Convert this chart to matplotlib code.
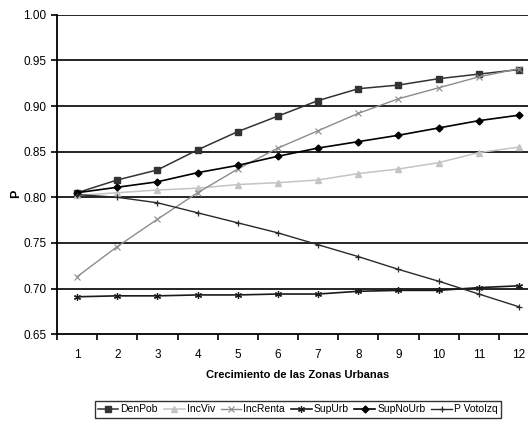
import numpy as np
import matplotlib.pyplot as plt

plt.rcParams['font.family'] = ['Liberation Sans', 'DejaVu Sans']

# Datos
zonas = list(range(1, 13))
den_pob = [0.805, 0.819, 0.830, 0.852, 0.872, 0.889, 0.906, 0.919, 0.923, 0.930, 0.935, 0.940]
inc_viv = [0.802, 0.805, 0.808, 0.810, 0.814, 0.816, 0.819, 0.826, 0.831, 0.838, 0.849, 0.855]
inc_renta = [0.713, 0.746, 0.776, 0.805, 0.831, 0.854, 0.873, 0.892, 0.908, 0.920, 0.932, 0.941]
sup_urb = [0.691, 0.692, 0.692, 0.693, 0.693, 0.694, 0.694, 0.697, 0.698, 0.698, 0.701, 0.703]
sup_no_urb = [0.805, 0.811, 0.817, 0.827, 0.835, 0.845, 0.854, 0.861, 0.868, 0.876, 0.884, 0.890]
p_voto_izq = [0.803, 0.800, 0.794, 0.783, 0.772, 0.761, 0.748, 0.735, 0.721, 0.708, 0.694, 0.680]

y_ticks = [0.65, 0.70, 0.75, 0.80, 0.85, 0.90, 0.95, 1.00]

fig = plt.figure(figsize=(5.28, 4.23), dpi=100)
ax = fig.add_axes([0.108, 0.21, 0.913, 0.755])

# Rejilla horizontal
for v in y_ticks[1:]:
    ax.axhline(v, color='black', lw=1.2, zorder=1)

ax.plot(zonas, den_pob, color='#333333', lw=1.1, marker='s', ms=4, label='DenPob', zorder=3)
ax.plot(zonas, inc_viv, color='#c4c4c4', lw=1.1, marker='^', ms=4, label='IncViv', zorder=3)
ax.plot(zonas, inc_renta, color='#8c8c8c', lw=1.0, marker='x', ms=4, mew=0.8, label='IncRenta', zorder=3)
ax.plot(zonas, sup_urb, color='#1a1a1a', lw=1.2, marker=(6, 2, 0), ms=5, mew=0.9, label='SupUrb', zorder=3)
ax.plot(zonas, sup_no_urb, color='black', lw=1.2, marker='D', ms=3.5, label='SupNoUrb', zorder=3)
ax.plot(zonas, p_voto_izq, color='#2a2a2a', lw=1.0, marker='+', ms=5, mew=0.9, label='P VotoIzq', zorder=3)

ax.set_xlim(0.5, 12.5)
ax.set_ylim(0.65, 1.00)
ax.set_yticks(y_ticks)
ax.set_yticklabels(['%.2f' % v for v in y_ticks], fontsize=8.5)
ax.set_xticks(zonas)
ax.set_xticklabels([str(z) for z in zonas], fontsize=8.5)
ax.set_xticks(np.arange(0.5, 12.6, 1), minor=True)
ax.tick_params(axis='x', which='major', length=0, pad=11)
ax.tick_params(axis='x', which='minor', length=4, width=1.2, direction='out')
ax.tick_params(axis='y', length=4, width=1.2, direction='out')

for s in ['top', 'right']:
    ax.spines[s].set_visible(False)
ax.spines['left'].set_linewidth(1.3)
ax.spines['bottom'].set_linewidth(1.3)

ax.set_ylabel('P', fontsize=9, fontweight='bold')
ax.yaxis.set_label_coords(-0.072, 0.44)
ax.set_xlabel('Crecimiento de las Zonas Urbanas', fontsize=8, fontweight='bold', labelpad=6)

leg = fig.legend(loc='center', bbox_to_anchor=(0.564, 0.032), ncol=6, fontsize=7.5,
                 frameon=True, fancybox=False, edgecolor='black', handlelength=2.0,
                 handletextpad=0.2, columnspacing=0.55, borderpad=0.3)
leg.get_frame().set_linewidth(1.0)

fig.savefig('out.png', dpi=100)
